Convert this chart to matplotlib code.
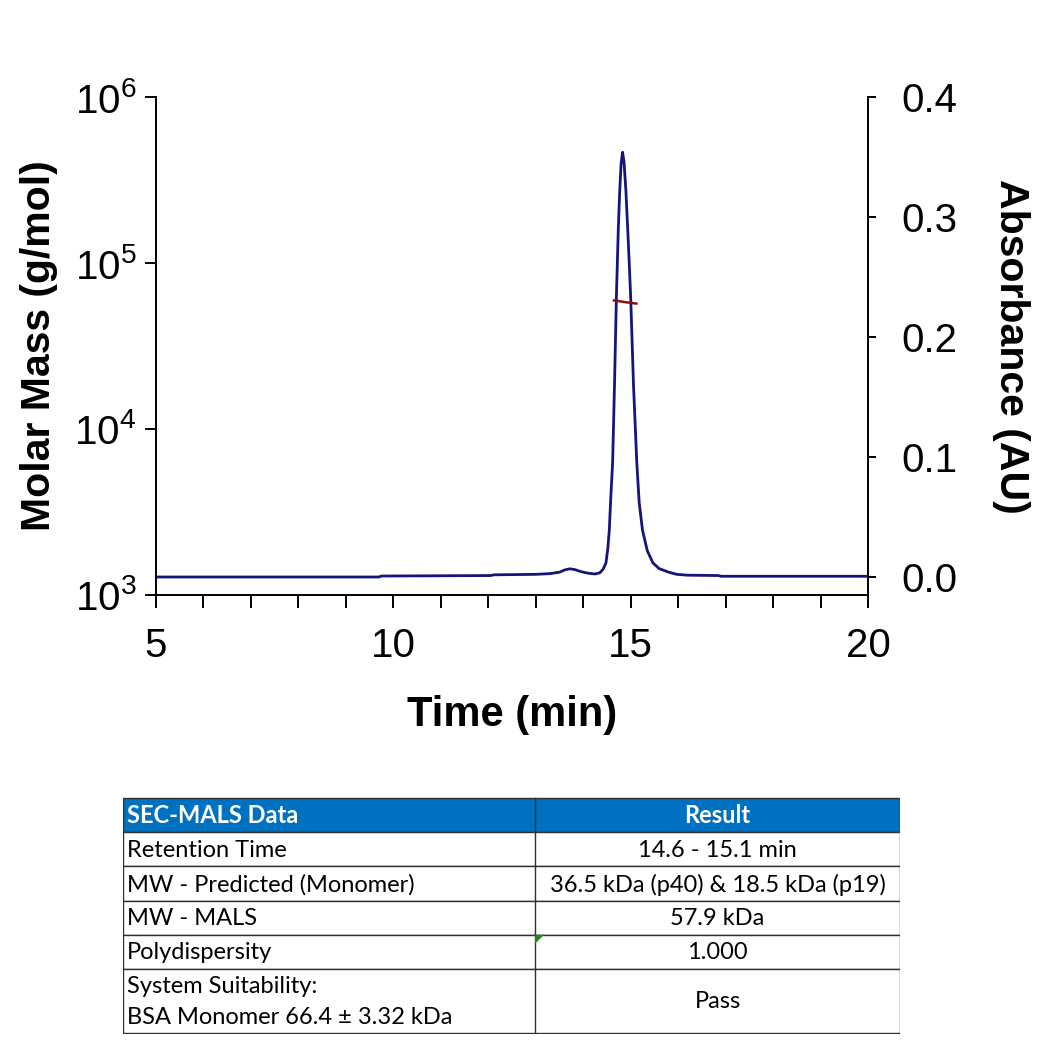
import numpy as np
import matplotlib
matplotlib.use('Agg')
import matplotlib.pyplot as plt
from matplotlib.patches import Rectangle, Polygon

plt.rcParams['font.family'] = ['Liberation Sans', 'DejaVu Sans']
plt.rcParams['mathtext.default'] = 'regular'

# absorbance trace (UV)
time = [5.0, 9.7, 9.75, 12.05, 12.12, 13.0, 13.3, 13.5, 13.62, 13.72, 13.82,
        13.95, 14.1, 14.25, 14.35, 14.42, 14.48, 14.52, 14.55, 14.58, 14.62,
        14.66, 14.70, 14.74, 14.77, 14.80, 14.83, 14.86, 14.90, 14.95, 15.0,
        15.06, 15.13, 15.18, 15.25, 15.35, 15.47, 15.6, 15.8, 15.97, 16.2,
        16.85, 16.9, 20.0]
absorb = [0.0, 0.0, 0.0008, 0.0012, 0.0018, 0.0022, 0.0028, 0.004, 0.006, 0.0068,
          0.0062, 0.0045, 0.0032, 0.0025, 0.0035, 0.0065, 0.0117, 0.024, 0.039,
          0.065, 0.095, 0.16, 0.234, 0.29, 0.322, 0.345, 0.354, 0.346, 0.322,
          0.28, 0.234, 0.16, 0.095, 0.062, 0.039, 0.022, 0.0117, 0.007, 0.004,
          0.0022, 0.0015, 0.0012, 0.0006, 0.0006]

# molar mass across the peak
mm_time = [14.65, 14.75, 14.85, 14.95, 15.05, 15.12]
mm_mass = [59500, 59000, 58300, 57800, 57300, 57000]

table_head = ['SEC-MALS Data', 'Result']
table_left = ['Retention Time', 'MW - Predicted (Monomer)', 'MW - MALS',
              'Polydispersity', 'System Suitability:\nBSA Monomer 66.4 \u00b1 3.32 kDa']
table_right = ['14.6 - 15.1 min', '36.5 kDa (p40) & 18.5 kDa (p19)', '57.9 kDa',
               '1.000', 'Pass']

fig = plt.figure(figsize=(10.44, 10.40), dpi=100)
ax = fig.add_axes([0.1494, 0.4279, 0.682, 0.4788])
ax2 = ax.twinx()

ax.set_yscale('log')
ax.set_ylim(1e3, 1e6)
ax.set_xlim(5, 20)
ax.set_yticks([1e3, 1e4, 1e5, 1e6])
ax.set_yticklabels([r'$10^{3}$', r'$10^{4}$', r'$10^{5}$', r'$10^{6}$'])
ax.yaxis.set_minor_locator(matplotlib.ticker.NullLocator())
ax.set_xticks([5, 10, 15, 20])
ax.set_xticks(np.arange(5, 21, 1), minor=True)

ax2.set_ylim(-0.015, 0.4)
ax2.set_yticks([0.0, 0.1, 0.2, 0.3, 0.4])
ax2.set_yticklabels(['0.0', '0.1', '0.2', '0.3', '0.4'])

ax2.plot(time, absorb, color='#14147a', lw=2.0, zorder=3)
ax.plot(mm_time, mm_mass, color='#8b1010', lw=1.8, zorder=4)
ax.set_zorder(ax2.get_zorder() + 1)
ax.patch.set_visible(False)

for a in (ax, ax2):
    a.spines['top'].set_visible(False)
    for s in a.spines.values():
        s.set_linewidth(1.4)
ax.spines['right'].set_visible(False)
ax2.spines['left'].set_visible(False)
ax2.spines['bottom'].set_visible(False)

ax.tick_params(axis='x', which='major', direction='out', length=9, width=1.4,
               labelsize=29, pad=14)
ax.tick_params(axis='x', which='minor', direction='out', length=9, width=1.4)
ax.tick_params(axis='y', direction='out', length=8, width=1.4, labelsize=29, pad=6)
ax2.tick_params(axis='y', direction='out', length=6, width=1.4, labelsize=29, pad=18)

ax.set_xlabel('Time (min)', fontsize=30, fontweight='bold', labelpad=22)
ax.set_ylabel('Molar Mass (g/mol)', fontsize=29.5, fontweight='bold', labelpad=12)
ax2.set_ylabel('Absorbance (AU)', fontsize=29.5, fontweight='bold', rotation=-90,
               labelpad=52)

# results table
tx = fig.add_axes([0.1178, 0.00577, 0.7443, 0.2279])
tx.set_xlim(0, 777)
tx.set_ylim(238, -1)
tx.axis('off')
split = 412
row_h = [34, 35, 35, 34, 34, 65]
tfont = dict(family=['Lato', 'DejaVu Sans'], fontsize=17)
y = 0
for i, h in enumerate(row_h):
    if i == 0:
        tx.add_patch(Rectangle((0, y), 777, h, facecolor='#0070c0', edgecolor='#303030', lw=1))
        tx.plot([split, split], [y, y + h], color='#303030', lw=1)
        tx.text(4, y + h / 2 + 1, table_head[0], color='white', fontweight='bold',
                va='center', ha='left', **tfont)
        tx.text(split + (777 - split) / 2, y + h / 2 + 1, table_head[1], color='white',
                fontweight='bold', va='center', ha='center', **tfont)
    else:
        tx.add_patch(Rectangle((0, y), 777, h, facecolor='white', edgecolor='#303030', lw=1))
        tx.plot([split, split], [y, y + h], color='#303030', lw=1)
        tx.text(4, y + h / 2 + 1, table_left[i - 1], color='black', va='center',
                ha='left', linespacing=1.6, **tfont)
        tx.text(split + (777 - split) / 2, y + h / 2 + 1, table_right[i - 1],
                color='black', va='center', ha='center', **tfont)
    y += h
# small green marker in the polydispersity cell
y4 = sum(row_h[:4])
tx.add_patch(Polygon([[split, y4], [split + 9, y4], [split, y4 + 9]],
                     closed=True, facecolor='#1a8a1a', edgecolor='none', zorder=5))

plt.savefig('out.png', dpi=100)
